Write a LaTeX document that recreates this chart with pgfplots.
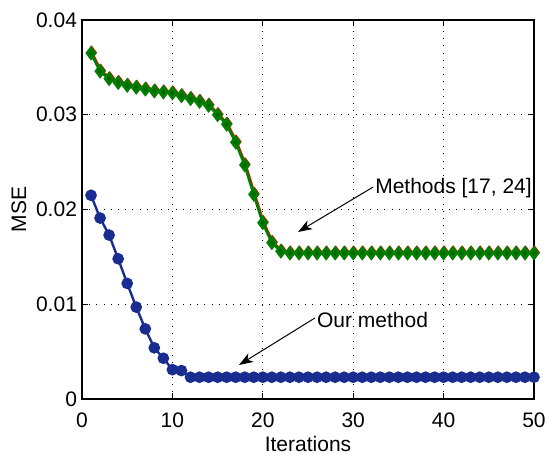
\documentclass[border=0pt]{standalone}
\usepackage{fontspec}
\setmainfont{Liberation Sans}
\usepackage{pgfplots}
\pgfplotsset{compat=1.18}
\usetikzlibrary{arrows.meta}

\definecolor{ourblue}{RGB}{25,45,145}
\definecolor{mgreen}{RGB}{0,128,0}
\definecolor{mred}{RGB}{255,0,0}

\pgfplotstableread{
x y
1 0.0215
2 0.0191
3 0.0173
4 0.0148
5 0.0122
6 0.0097
7 0.0074
8 0.0054
9 0.0043
10 0.0031
11 0.0030
12 0.0023
13 0.0023
14 0.0023
15 0.0023
16 0.0023
17 0.0023
18 0.0023
19 0.0023
20 0.0023
21 0.0023
22 0.0023
23 0.0023
24 0.0023
25 0.0023
26 0.0023
27 0.0023
28 0.0023
29 0.0023
30 0.0023
31 0.0023
32 0.0023
33 0.0023
34 0.0023
35 0.0023
36 0.0023
37 0.0023
38 0.0023
39 0.0023
40 0.0023
41 0.0023
42 0.0023
43 0.0023
44 0.0023
45 0.0023
46 0.0023
47 0.0023
48 0.0023
49 0.0023
50 0.0023
}\ourmethod

\pgfplotstableread{
x y
1 0.0365
2 0.0346
3 0.0338
4 0.0334
5 0.0331
6 0.0329
7 0.0327
8 0.0325
9 0.0324
10 0.0323
11 0.0320
12 0.0317
13 0.0314
14 0.0310
15 0.0300
16 0.0290
17 0.0271
18 0.0247
19 0.0216
20 0.0186
21 0.0165
22 0.0156
23 0.0154
24 0.0154
25 0.0154
26 0.0154
27 0.0154
28 0.0154
29 0.0154
30 0.0154
31 0.0154
32 0.0154
33 0.0154
34 0.0154
35 0.0154
36 0.0154
37 0.0154
38 0.0154
39 0.0154
40 0.0154
41 0.0154
42 0.0154
43 0.0154
44 0.0154
45 0.0154
46 0.0154
47 0.0154
48 0.0154
49 0.0154
50 0.0154
}\othermethods

\begin{document}
\begin{tikzpicture}
\useasboundingbox (-41pt,-28pt) rectangle (233pt,199.5pt);
\begin{axis}[
  at={(0,0)}, anchor=south west,
  scale only axis,
  width=226pt, height=189.5pt,
  xmin=0, xmax=50, ymin=0, ymax=0.04,
  xtick={0,10,...,50},
  ytick={0,0.01,0.02,0.03,0.04},
  yticklabel style={/pgf/number format/fixed, /pgf/number format/precision=2},
  scaled y ticks=false,
  /pgf/number format/assume math mode=true,
  tick align=inside,
  major tick length=3pt,
  tick style={black, line width=0.4pt},
  xtick pos=both, ytick pos=both,
  axis line style={black, line width=0.6pt},
  grid=major,
  major grid style={black, line width=0.4pt, dash pattern=on 0.4pt off 3.2pt},
  ticklabel style={font=\fontsize{10.5}{12}\selectfont},
  label style={font=\fontsize{10.5}{12}\selectfont},
  xlabel={Iterations},
  ylabel={MSE},
  xlabel style={yshift=2.5pt},
  ylabel style={yshift=-2pt},
  xticklabel style={yshift=-3.5pt},
  yticklabel style={xshift=1pt},
  clip=false,
]
% methods [17, 24]: two nearly coincident curves
\addplot[mred, line width=1.3pt, mark=diamond*, mark size=2.7pt,
  mark options={draw=mred, fill=mred, line width=1pt},
  xshift=0.35pt, yshift=0.3pt] table {\othermethods};
\addplot[mgreen, line width=1.4pt, mark=diamond*, mark size=2.7pt,
  mark options={draw=mgreen, fill=mgreen!80!black, line width=1.3pt}] table {\othermethods};
% proposed method
\addplot[ourblue, line width=1.2pt, mark=*, mark size=2.3pt,
  mark options={fill=ourblue, draw=ourblue}] table {\ourmethod};

\draw[black, line width=0.5pt, -{Stealth[length=7pt, width=5pt, inset=2pt]}]
  (axis cs:32.2,0.02237) -- (axis cs:23.9,0.01763);
\node[anchor=west, inner sep=0pt, font=\fontsize{10.5}{12}\selectfont]
  at (axis cs:32.4,0.0223) {Methods [17, 24]};

\draw[black, line width=0.5pt, -{Stealth[length=7pt, width=5pt, inset=2pt]}]
  (axis cs:25.77,0.00855) -- (axis cs:17.37,0.00359);
\node[anchor=west, inner sep=0pt, font=\fontsize{10.5}{12}\selectfont]
  at (axis cs:25.96,0.0083) {Our method};
\end{axis}
\end{tikzpicture}
\end{document}
